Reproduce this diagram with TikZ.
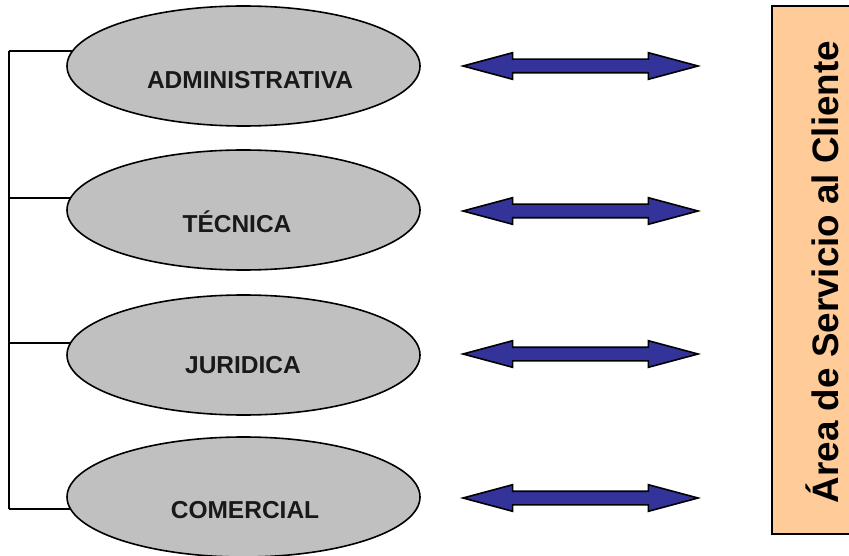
\documentclass[tikz,border=0pt]{standalone}
\usepackage{fontspec}
\setmainfont{Liberation Sans}
\usetikzlibrary{shapes.geometric,shapes.arrows}
\definecolor{areagray}{HTML}{C0C0C0}
\definecolor{arrowblue}{HTML}{333399}
\definecolor{clientorange}{HTML}{FFCC99}
\begin{document}
\begin{tikzpicture}[
    x=1pt, y=-1pt,
    font=\bfseries\fontsize{24.5}{28}\selectfont,
    % area ellipses
    area/.style={ellipse, draw, line width=1.6pt, fill=areagray,
        minimum width=353pt, minimum height=120pt, inner sep=0pt},
    areatext/.style={text=black!90, inner sep=0pt},
    link/.style={draw, line width=1.5pt},
    both/.style={double arrow, draw, line width=1.6pt, fill=arrowblue,
        double arrow head extend=6.5pt, double arrow tip angle=30,
        double arrow head indent=0pt, inner xsep=0pt, inner ysep=6pt,
        minimum height=235pt, minimum width=25pt},
    client/.style={rectangle, draw, line width=1.5pt, fill=clientorange,
        minimum width=78pt, minimum height=528pt, inner sep=0pt},
]
\useasboundingbox (0,0) rectangle (849,556);

% =========================================================
% Areas
% =========================================================
\node[area] (adm) at (243.5,  66) {};
\node[area] (tec) at (243.5, 210) {};
\node[area] (jur) at (243.5, 355) {};
\node[area] (com) at (243.5, 497) {};

% labels
\node[areatext] (admL) at (250,  80) {ADMINISTRATIVA};
\node[areatext] (tecL) at (237, 222) {TÉCNICA};
\node[areatext] (jurL) at (243, 365) {JURIDICA};
\node[areatext] (comL) at (245, 510) {COMERCIAL};

% =========================================================
% Left bracket
% =========================================================
\coordinate (bx) at (9,0);
\draw[link] (bx |- adm.175.7) -- (bx |- com.184.3);
\draw[link] (bx |- adm.175.7) -- (adm.175.7);
\draw[link] (bx |- tec.176) -- (tec.176);
\draw[link] (bx |- jur.176) -- (jur.176);
\draw[link] (bx |- com.184.3) -- (com.184.3);

% =========================================================
% Double arrows
% =========================================================
\node[both] (admA) at (580.5,  66) {};
\node[both] (tecA) at (580.5, 211) {};
\node[both] (jurA) at (580.5, 354) {};
\node[both] (comA) at (580.5, 498) {};

% =========================================================
% Client service box
% =========================================================
\node[client] (cli) at (811, 270) {};
\node[rotate=90, inner sep=0pt, font=\bfseries\fontsize{36.8}{40}\selectfont]
    (cliL) at (822, 272) {Área de Servicio al Cliente};

\end{tikzpicture}
\end{document}
